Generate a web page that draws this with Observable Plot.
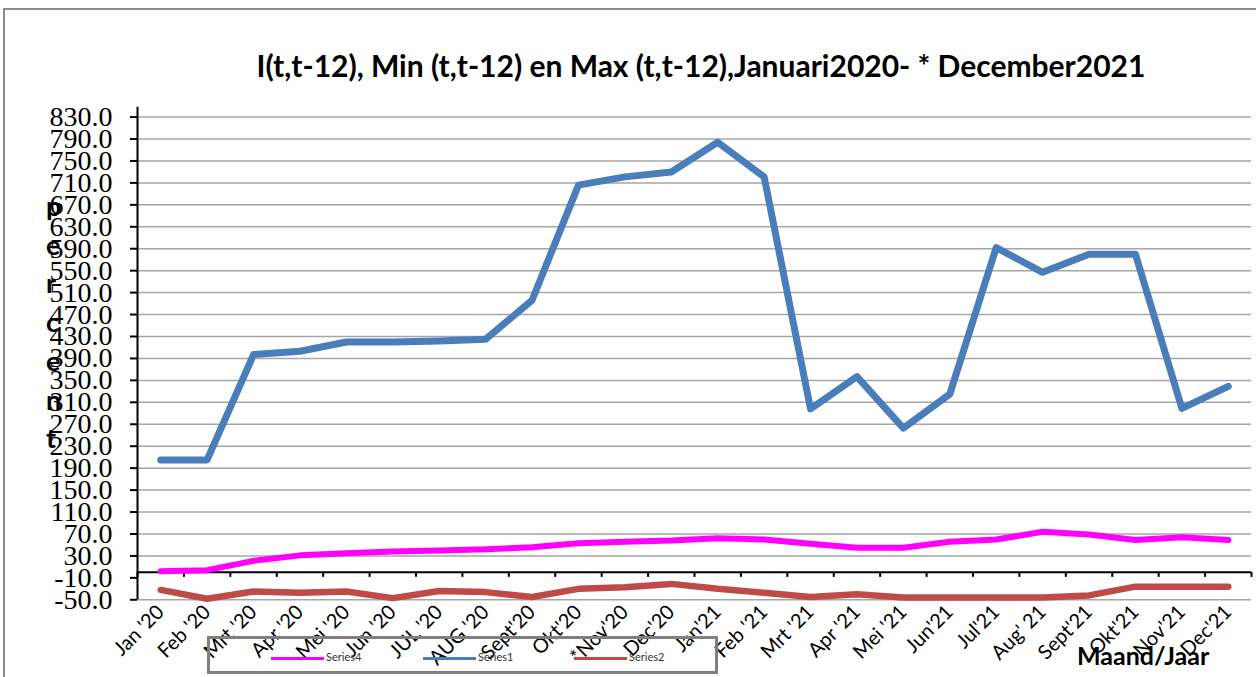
<!DOCTYPE html>
<html>
<head>
<meta charset="utf-8">
<script src="https://cdn.jsdelivr.net/npm/d3@7"></script>
<script src="https://cdn.jsdelivr.net/npm/@observablehq/plot@0.6"></script>
<style>
  body { margin: 0; background: #fff; }
  #wrap { position: relative; width: 1256px; height: 677px; overflow: hidden; background: #fff; font-family: Lato, sans-serif; }
  #frame { position: absolute; left: 3px; top: 8px; width: 1400px; height: 900px; border: 2px solid #8c8c8c; box-sizing: border-box; }
  #title { position: absolute; left: 0; top: 47px; width: 1402px; text-align: center; font-weight: bold; font-size: 30px; color: #000; white-space: nowrap; }
  #chart { position: absolute; left: 0; top: 100px; }
  #ylab { position: absolute; left: 46px; top: 187px; font-weight: bold; font-size: 27px; line-height: 38.7px; white-space: pre; color: #000; }
  #legend { position: absolute; left: 207px; top: 636px; width: 511px; height: 38px; border: 3px solid #7f7f7f; box-sizing: border-box; }
  .sw { position: absolute; top: 18px; height: 3px; width: 53px; }
  .lt { position: absolute; top: 11px; font-size: 11px; color: #333; font-family: Lato, sans-serif; }
  #xlab { position: absolute; left: 1077px; top: 640px; font-weight: bold; font-size: 25px; color: #000; }
</style>
</head>
<body>
<div id="wrap">
  <div id="frame"></div>
  <div id="title"></div>
  <div id="chart"></div>
  <div id="ylab"></div>
  <div id="legend"></div>
  <div id="xlab"></div>
</div>
<script>
const titleText = "I(t,t-12), Min (t,t-12) en Max (t,t-12),Januari2020- * December2021";
const yAxisTitle = "percent";
const xAxisTitle = "Maand/Jaar";

const months = ["Jan '20","Feb '20","Mrt '20","Apr '20","Mei '20","Jun '20","JUL '20","AUG '20","Sept'20","Okt'20","*Nov'20","Dec'20",
                "Jan'21","Feb '21","Mrt '21","Apr '21","Mei '21","Jun'21","Jul'21","Aug' 21","Sept'21","Okt'21","Nov'21","Dec'21"];

// Series1 (blue): I(t,t-12)
const series1 = [205,205,397,403,420,420,422,425,496,706,721,730,784,721,298,357,263,325,592,547,580,580,299,339];
// Series4 (magenta)
const series4 = [2,4,21,31,35,38,40,42,46,53,56,58,62,60,52,45,45,56,60,74,69,59,64,59];
// Series2 (red)
const series2 = [-32,-48,-35,-37,-35,-47,-34,-36,-45,-30,-27,-21,-30,-37,-45,-40,-46,-46,-46,-46,-42,-26,-26,-26];

const seriesNames = ["Series4","Series1","Series2"];
const seriesColors = {Series4: "#ff00ff", Series1: "#4a7ebb", Series2: "#be4b48"};

const yTicks = d3.range(-50, 831, 40);
const idx = d3.range(months.length);
const boundaries = d3.range(-0.5, months.length, 1);

document.getElementById("title").textContent = titleText;
document.getElementById("ylab").textContent = yAxisTitle.split("").join("\n");
document.getElementById("xlab").textContent = xAxisTitle;

const chart = Plot.plot({
  width: 1256,
  height: 577,
  marginLeft: 137,
  marginRight: 5,
  marginTop: 6.7,
  marginBottom: 77.7,
  style: {background: "transparent", overflow: "visible"},
  x: {type: "linear", domain: [-0.5, months.length - 0.5]},
  y: {domain: [-50, 848]},
  marks: [
    Plot.gridY(yTicks.filter(d => d !== -10), {stroke: "#a6a6a6", strokeOpacity: 1, strokeWidth: 1.5}),
    Plot.ruleX([-0.5], {stroke: "#000", strokeWidth: 2}),
    Plot.ruleY([0], {stroke: "#000", strokeWidth: 2}),
    Plot.ruleX(boundaries, {x: d => d, y1: 0, y2: 0, insetTop: 0, insetBottom: -5, stroke: "#000", strokeWidth: 2}),
    Plot.axisY(yTicks, {
      tickFormat: d => d.toFixed(1), tickSize: 7, tickPadding: 18, strokeWidth: 2,
      fontSize: 28, fontFamily: "'Liberation Serif', serif", fill: "#000", label: null
    }),
    Plot.axisX(idx, {
      tickFormat: i => months[i], tickRotate: -45, tickSize: 0, tickPadding: 9,
      fontSize: 20, fontFamily: "Lato, sans-serif", fill: "#000", label: null
    }),
    Plot.lineY(series4, {x: (d, i) => i, y: d => d, stroke: seriesColors.Series4, strokeWidth: 6}),
    Plot.lineY(series2, {x: (d, i) => i, y: d => d, stroke: seriesColors.Series2, strokeWidth: 6.5}),
    Plot.lineY(series1, {x: (d, i) => i, y: d => d, stroke: seriesColors.Series1, strokeWidth: 7})
  ]
});
document.getElementById("chart").appendChild(chart);

// legend
const legend = document.getElementById("legend");
const legendX = {Series4: 61, Series1: 213, Series2: 364};
for (const name of seriesNames) {
  const sw = document.createElement("div");
  sw.className = "sw";
  sw.style.left = legendX[name] + "px";
  sw.style.background = seriesColors[name];
  legend.appendChild(sw);
  const t = document.createElement("div");
  t.className = "lt";
  t.style.left = (legendX[name] + 55) + "px";
  t.textContent = name;
  legend.appendChild(t);
}
</script>
</body>
</html>
